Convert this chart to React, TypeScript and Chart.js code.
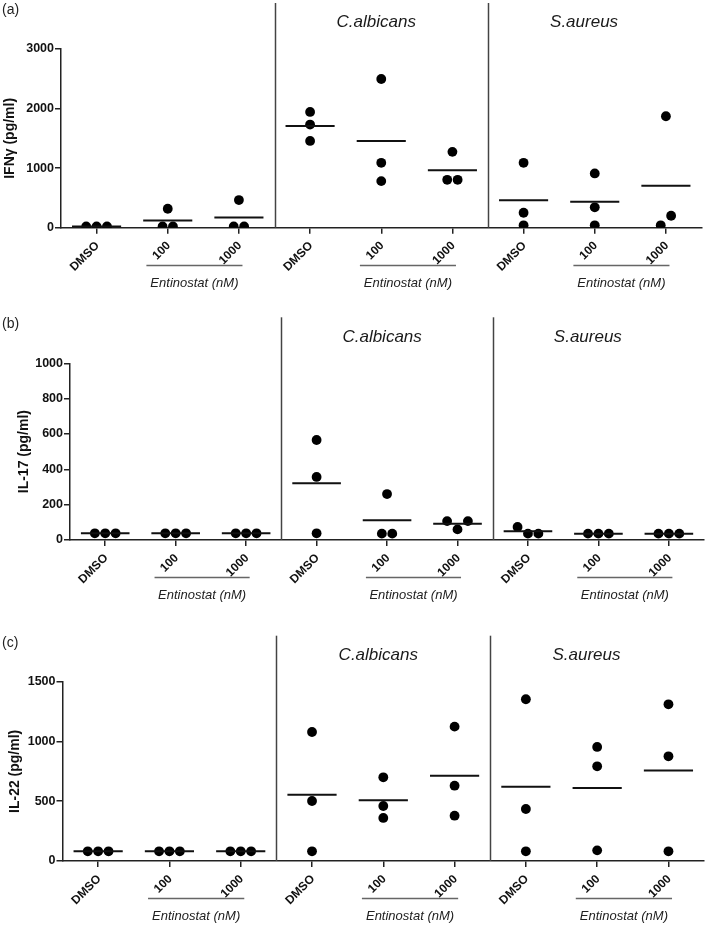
import React, { useEffect, useRef } from "react";
import { Chart, registerables } from "chart.js";

Chart.register(...registerables);

// ---------- data ----------
const categories = ["DMSO", "100", "1000", "DMSO", "100", "1000", "DMSO", "100", "1000"];
const groupHeaders = ["C.albicans", "S.aureus"];
const treatmentLabel = "Entinostat (nM)";
const panelLetters = ["(a)", "(b)", "(c)"];
const yTitles = ["IFNγ (pg/ml)", "IL-17 (pg/ml)", "IL-22 (pg/ml)"];

const ifngValues = [
  [20, 20, 20], [318, 20, 20], [464, 20, 20],
  [1943, 1732, 1457], [2496, 1089, 782], [1273, 804, 804],
  [1089, 251, 40], [911, 342, 40], [1871, 40, 201],
];
const ifngMeans = [22, 122, 172, 1709, 1457, 963, 459, 434, 706];

const il17Values = [
  [38, 38, 38], [38, 38, 38], [38, 38, 38],
  [566, 357, 38], [260, 36, 36], [107, 60, 107],
  [74, 36, 36], [36, 36, 36], [36, 36, 36],
];
const il17Means = [38, 38, 38, 321, 112, 92, 50, 36, 36];

const il22Values = [
  [81, 81, 81], [81, 81, 81], [81, 81, 81],
  [1079, 502, 81], [700, 460, 360], [1124, 630, 379],
  [1353, 435, 81], [954, 792, 89], [1311, 876, 81],
];
const il22Means = [81, 81, 81, 555, 508, 713, 622, 611, 758];

const yMaxes = [3000, 1000, 1500];
const ySteps = [1000, 200, 500];

// ---------- layout ----------
const W = 709;
const FONT = "'Liberation Sans', Arial, Helvetica, sans-serif";

const panels = [
  { top: 0, height: 310, left: 61, right: 701.5, areaTop: 49, areaBottom: 227.7, titlePad: 2,
    values: ifngValues, means: ifngMeans },
  { top: 300, height: 320, left: 70, right: 704.2, areaTop: 63.3, areaBottom: 240, titlePad: 16,
    values: il17Values, means: il17Means },
  { top: 600, height: 326, left: 62.5, right: 704.5, areaTop: 81.7, areaBottom: 261, titlePad: 7,
    values: il22Values, means: il22Means },
];

const DOT_GAP_PX = 10.4;
const CLUSTER_PX = 10.8;

function swarm(values: number[][], pxPerUnit: number, dUnit: number) {
  const pts: { x: number; y: number }[] = [];
  values.forEach((vals, i) => {
    const idx = vals.map((v, k) => ({ v, k })).sort((a, b) => a.v - b.v);
    const clusters: { v: number; k: number }[][] = [];
    let cur = [idx[0]];
    for (let j = 1; j < idx.length; j++) {
      if ((idx[j].v - idx[j - 1].v) * pxPerUnit < CLUSTER_PX) cur.push(idx[j]);
      else { clusters.push(cur); cur = [idx[j]]; }
    }
    clusters.push(cur);
    clusters.forEach((c) => {
      c.sort((a, b) => a.k - b.k);
      const n = c.length;
      c.forEach((p, j) => pts.push({ x: i + (j - (n - 1) / 2) * dUnit, y: p.v }));
    });
  });
  return pts;
}

const annotations = {
  id: "annotations",
  afterDraw(chart: any, _args: any, opts: any) {
    const { ctx, chartArea } = chart;
    const xs = chart.scales.x;
    ctx.save();
    // separators
    ctx.strokeStyle = "#444";
    ctx.lineWidth = 1.5;
    [2.5, 5.5].forEach((v) => {
      const px = Math.round(xs.getPixelForValue(v)) + 0.5;
      ctx.beginPath();
      ctx.moveTo(px, chartArea.top - 46);
      ctx.lineTo(px, chartArea.bottom);
      ctx.stroke();
    });
    // group headers
    ctx.fillStyle = "#1a1a1a";
    ctx.font = `italic 17px ${FONT}`;
    ctx.textAlign = "center";
    ctx.textBaseline = "middle";
    ctx.fillText(groupHeaders[0], xs.getPixelForValue(3.93), chartArea.top - 26.5);
    ctx.fillText(groupHeaders[1], xs.getPixelForValue(6.85), chartArea.top - 26.5);
    // treatment underline + label
    [1, 4, 7].forEach((i) => {
      const x0 = xs.getPixelForValue(i - 0.3);
      const x1 = xs.getPixelForValue(i + 1.05);
      ctx.strokeStyle = "#666";
      ctx.lineWidth = 1.3;
      ctx.beginPath();
      const y = Math.round(chartArea.bottom + 37) + 0.5;
      ctx.moveTo(x0, y);
      ctx.lineTo(x1, y);
      ctx.stroke();
      ctx.fillStyle = "#222";
      ctx.font = `italic 13px ${FONT}`;
      ctx.fillText(treatmentLabel, (x0 + x1) / 2, chartArea.bottom + 55.5);
    });
    // panel letter
    ctx.fillStyle = "#222";
    ctx.font = `14px ${FONT}`;
    ctx.textAlign = "left";
    ctx.fillText(opts.letter, 2, chartArea.top - 39);
    ctx.restore();
  },
};

function Panel({ index }: { index: number }) {
  const ref = useRef<HTMLCanvasElement | null>(null);
  useEffect(() => {
    const p = panels[index];
    const canvas = ref.current!;
    const catPx = (p.right - p.left) / categories.length;
    const dUnit = DOT_GAP_PX / catPx;
    const pxPerUnit = (p.areaBottom - p.areaTop) / yMaxes[index];
    const dots = swarm(p.values, pxPerUnit, dUnit);
    const meanLine: { x: number; y: number | null }[] = [];
    p.means.forEach((m, i) => {
      meanLine.push({ x: i - 0.345, y: m }, { x: i + 0.345, y: m }, { x: i + 0.4, y: null });
    });
    const xTickFont = { family: FONT, size: 12, weight: "bold" as const };
    const yTickFont = { family: FONT, size: 12.5, weight: "bold" as const };
    const titleFont = { family: FONT, size: 14, weight: "bold" as const };
    const chart = new Chart(canvas, {
      type: "scatter",
      data: {
        datasets: [
          {
            type: "line",
            data: meanLine as any,
            borderColor: "#111",
            borderWidth: 2,
            pointRadius: 0,
            spanGaps: false,
            fill: false,
          } as any,
          {
            data: dots,
            backgroundColor: "#000",
            borderWidth: 0,
            pointRadius: 4.9,
            pointHoverRadius: 4.9,
          },
        ],
      },
      options: {
        animation: false,
        responsive: false,
        devicePixelRatio: 1,
        events: [],
        layout: { padding: { left: 0, right: W - p.right, top: p.areaTop, bottom: 0 } },
        plugins: {
          legend: { display: false },
          tooltip: { enabled: false },
          annotations: { letter: panelLetters[index] },
        } as any,
        scales: {
          x: {
            type: "linear",
            min: -0.5,
            max: 8.5,
            afterBuildTicks: (s: any) => {
              s.ticks = categories.map((_, i) => ({ value: i }));
            },
            afterFit: (s: any) => {
              s.height = p.height - p.areaBottom;
            },
            ticks: {
              autoSkip: false,
              maxRotation: 45,
              minRotation: 45,
              padding: 5,
              labelOffset: 1,
              color: "#111",
              font: xTickFont,
              callback: (v: any) => categories[Math.round(Number(v))],
            },
            grid: { drawOnChartArea: false, drawTicks: true, tickLength: 6, color: "#222", lineWidth: 1.5 },
            border: { display: true, color: "#222", width: 1.5 },
          },
          y: {
            min: 0,
            max: yMaxes[index],
            afterFit: (s: any) => {
              s.width = p.left;
            },
            ticks: {
              stepSize: ySteps[index],
              padding: 1,
              color: "#111",
              font: yTickFont,
              callback: (v: any) => String(v),
            },
            grid: { drawOnChartArea: false, drawTicks: true, tickLength: 6, color: "#222", lineWidth: 1.5 },
            border: { display: true, color: "#222", width: 1.5 },
            title: {
              display: true,
              text: yTitles[index],
              color: "#111",
              font: titleFont,
              padding: { top: p.titlePad, bottom: 0 },
            },
          },
        },
      } as any,
      plugins: [annotations],
    });
    return () => chart.destroy();
  }, [index]);
  const p = panels[index];
  return (
    <canvas
      ref={ref}
      width={W}
      height={p.height}
      style={{ position: "absolute", left: 0, top: p.top, width: W, height: p.height, display: "block" }}
    />
  );
}

export default function App() {
  return (
    <div style={{ position: "absolute", left: 0, top: 0, width: W, height: 926, background: "#fff" }}>
      {panels.map((_, i) => (
        <Panel key={i} index={i} />
      ))}
    </div>
  );
}
